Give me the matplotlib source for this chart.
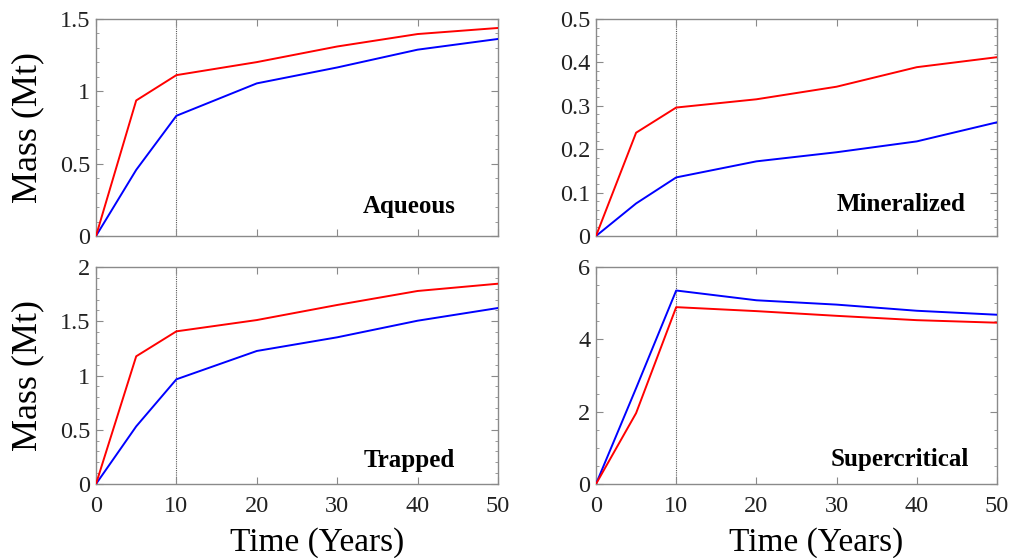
import matplotlib
matplotlib.use("Agg")
import matplotlib.pyplot as plt
from matplotlib.ticker import MultipleLocator

plt.rcParams['font.family'] = ['Liberation Serif', 'DejaVu Serif']

time = [0, 5, 10, 20, 30, 40, 50]

aqueous_red = [0, 0.937, 1.112, 1.202, 1.31, 1.396, 1.438]
aqueous_blue = [0, 0.457, 0.831, 1.055, 1.165, 1.288, 1.362]

mineral_red = [0, 0.238, 0.296, 0.315, 0.344, 0.389, 0.412]
mineral_blue = [0, 0.075, 0.135, 0.172, 0.193, 0.218, 0.262]

trapped_red = [0, 1.177, 1.407, 1.511, 1.65, 1.779, 1.846]
trapped_blue = [0, 0.531, 0.965, 1.226, 1.352, 1.505, 1.622]

super_red = [0, 1.96, 4.89, 4.78, 4.65, 4.53, 4.46]
super_blue = [0, 2.65, 5.35, 5.08, 4.96, 4.79, 4.68]

panel_names = ["Aqueous", "Mineralized", "Trapped", "Supercritical"]

fig = plt.figure(figsize=(10.22, 5.58), dpi=100)

W, H = 1022, 558
def rect(l, t, r, b):
    return [l / W, 1 - b / H, (r - l) / W, (b - t) / H]

panels = [
    dict(rect=rect(96, 19, 498, 236), red=aqueous_red, blue=aqueous_blue,
         ymax=1.5, minor=0.1, yticks=[0, 0.5, 1, 1.5], ylabels=["0", "0.5", "1", "1.5"],
         name=panel_names[0], pos=(0.779, 0.134), ylab=True, xlab=False),
    dict(rect=rect(596, 19, 997, 236), red=mineral_red, blue=mineral_blue,
         ymax=0.5, minor=0.02, yticks=[0, 0.1, 0.2, 0.3, 0.4, 0.5],
         ylabels=["0", "0.1", "0.2", "0.3", "0.4", "0.5"],
         name=panel_names[1], pos=(0.762, 0.143), ylab=False, xlab=False),
    dict(rect=rect(96, 267, 498, 484), red=trapped_red, blue=trapped_blue,
         ymax=2.0, minor=0.1, yticks=[0, 0.5, 1, 1.5, 2], ylabels=["0", "0.5", "1", "1.5", "2"],
         name=panel_names[2], pos=(0.778, 0.11), ylab=True, xlab=True),
    dict(rect=rect(596, 267, 997, 484), red=super_red, blue=super_blue,
         ymax=6, minor=0.5, yticks=[0, 2, 4, 6], ylabels=["0", "2", "4", "6"],
         name=panel_names[3], pos=(0.758, 0.114), ylab=False, xlab=True),
]

spine_col = "#8a8a8a"
for p in panels:
    ax = fig.add_axes(p["rect"])
    ax.axvline(10, color="#555555", lw=0.8, ls=(0, (1, 1)), zorder=1)
    ax.plot(time, p["blue"], color="#0000ff", lw=1.4, zorder=3)
    ax.plot(time, p["red"], color="#ff0000", lw=1.4, zorder=3)
    ax.set_xlim(0, 50)
    ax.set_ylim(0, p["ymax"])
    ax.set_xticks([0, 10, 20, 30, 40, 50])
    ax.set_yticks(p["yticks"])
    ax.set_yticklabels(p["ylabels"])
    ax.yaxis.set_minor_locator(MultipleLocator(p["minor"]))
    ax.tick_params(which="both", direction="in", top=True, right=True,
                   color=spine_col, labelsize=17.5, labelcolor="#222222")
    ax.tick_params(axis="y", pad=4)
    ax.tick_params(axis="x", pad=9)
    ax.tick_params(which="major", length=5, width=0.8)
    ax.tick_params(which="minor", length=2.5, width=0.6)
    for s in ax.spines.values():
        s.set_color(spine_col)
        s.set_linewidth(1.0)
    if p["xlab"]:
        ax.set_xlabel("Time (Years)", fontsize=24, labelpad=0)
        ax.xaxis.set_label_coords(0.55, -0.2)
    else:
        ax.set_xticklabels([])
    if p["ylab"]:
        ax.set_ylabel("Mass (Mt)", fontsize=26, labelpad=6)
        ax.yaxis.set_label_coords(-0.128, 0.5)
    ax.text(p["pos"][0], p["pos"][1], p["name"], transform=ax.transAxes,
            ha="center", va="center", fontsize=18, fontweight="bold", zorder=4)

fig.savefig("out.png", dpi=100)
